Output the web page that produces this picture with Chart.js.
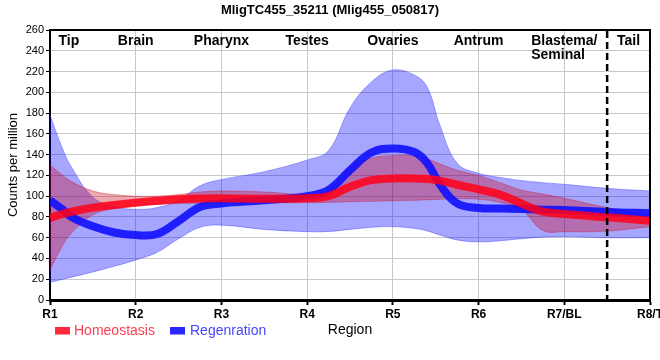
<!DOCTYPE html>
<html><head><meta charset="utf-8">
<script src="https://cdn.jsdelivr.net/npm/chart.js@4.4.1/dist/chart.umd.min.js"></script>
<style>
html,body{margin:0;padding:0;overflow:hidden;background:#fff;width:660px;height:360px}
#wrap{width:680px;height:360px;position:relative}
</style>
</head><body><div id="wrap"><canvas id="c" width="680" height="360"></canvas></div>
<script>
const chartTitle = 'MligTC455_35211 (Mlig455_050817)';
const tickLabels = ['R1','R2','R3','R4','R5','R6','R7/BL','R8/T'];
const regionNames = ['Tip','Brain','Pharynx','Testes','Ovaries','Antrum','Blastema/\nSeminal','Tail'];
const regionNamePos = [1.22,2,3,4,5,6,7,7.75];
const boundaryPos = 7.5;
const seriesNames = ['Homeostasis','Regenration'];

const samplePos  = [1,1.15,1.25,1.5,1.75,2,2.25,2.5,2.75,3,3.5,4,4.25,4.5,4.75,5,5.25,5.4,5.55,5.75,6,6.25,6.5,6.75,7,7.5,8];
const homeoMean  = [79,83,85,89,91.5,93.7,95.5,97,97.8,98,97.5,98,100,109,115.5,117,117,116.5,115,111,106.6,101.5,93,85,82.8,79.6,76.4];
const homeoUpper = [130,120,114,105,101.5,100,100,101.5,104,105,104,102,106,128,136.7,139,139,136,131,125,120,113,106,102,98,89,82];
const homeoLower = [29,53,64.5,82,88,91,92,93,93,93,93.5,93.7,94,94.7,95,95.5,96,96.5,97,97.5,97,94,87,67,65.8,66.4,70.6];
const regenMean  = [96,87,80,71,65,62.5,63.5,76,89.6,93,96,100,106,125,142,146,142.5,132,111,93,88.6,88,87.6,87,86.7,84.7,83.5];
const regenUpper = [178,145,128,99,90,87.3,89,96,110,116,123.6,134.8,144,185,210,221.5,216.7,205,168,131.6,122,118,115,113,111.4,107.5,105];
const regenLower = [17,20,22,27,32.5,38.5,46,59,70,72,68,65.8,66,68,70,70.6,69,66.5,62.5,57.8,56,57,59,60.5,61,60,60];

const FONT = "'Liberation Sans', Arial, sans-serif";
const pts = arr => arr.map((v,i)=>({x:samplePos[i], y:v}));

const decor = {
  id:'decor',
  afterDraw(chart){
    const {ctx, chartArea:a, scales:{x}} = chart;
    ctx.save();
    ctx.strokeStyle='#000'; ctx.lineWidth=2;
    ctx.beginPath(); ctx.moveTo(a.left, a.top); ctx.lineTo(a.right, a.top); ctx.lineTo(a.right, a.bottom); ctx.stroke();
    const bx = x.getPixelForValue(boundaryPos);
    ctx.setLineDash([7,4]); ctx.lineWidth=2.5;
    ctx.beginPath(); ctx.moveTo(bx, a.top+1); ctx.lineTo(bx, a.bottom+6); ctx.stroke();
    ctx.setLineDash([]);
    ctx.fillStyle='#000';
    ctx.font = 'bold 13px '+FONT; ctx.textAlign='center'; ctx.textBaseline='alphabetic';
    ctx.fillText(chartTitle, 330, 13.5);
    ctx.font = 'bold 14px '+FONT;
    regionNames.forEach((n,i)=>{
      const lines = n.split('\n');
      const cx = x.getPixelForValue(regionNamePos[i]);
      if(lines.length===1){ ctx.textAlign='center'; ctx.fillText(n, cx, 44.5); }
      else {
        const w = ctx.measureText(lines[0]).width;
        ctx.textAlign='left';
        lines.forEach((l,j)=>ctx.fillText(l, cx - w/2, 44.5 + j*14.5));
      }
    });
    ctx.font = '14px '+FONT; ctx.textAlign='left';
    ctx.fillStyle='rgb(255,40,60)'; ctx.fillRect(55,327,15,7.5);
    ctx.fillStyle='rgb(255,60,80)'; ctx.fillText(seriesNames[0], 74, 335);
    ctx.fillStyle='rgb(40,40,255)'; ctx.fillRect(170,327,15,7.5);
    ctx.fillStyle='rgb(70,70,255)'; ctx.fillText(seriesNames[1], 190, 335);
    ctx.restore();
  }
};

new Chart(document.getElementById('c'), {
  type:'line',
  data:{ datasets:[
    {label:'regenUpper', data:pts(regenUpper), fill:'+1', backgroundColor:'rgba(0,0,255,0.35)', borderColor:'rgba(70,70,255,0.45)', borderWidth:1, order:4},
    {label:'regenLower', data:pts(regenLower), fill:false, borderColor:'rgba(70,70,255,0.45)', borderWidth:1, order:5},
    {label:'homeoUpper', data:pts(homeoUpper), fill:'+1', backgroundColor:'rgba(205,0,20,0.34)', borderColor:'rgba(205,0,30,0.35)', borderWidth:1, order:2},
    {label:'homeoLower', data:pts(homeoLower), fill:false, borderColor:'rgba(205,0,30,0.35)', borderWidth:1, order:3},
    {label:seriesNames[1], data:pts(regenMean), fill:false, borderColor:'rgba(15,15,255,0.9)', borderWidth:8, order:1},
    {label:seriesNames[0], data:pts(homeoMean), fill:false, borderColor:'rgba(255,0,25,0.86)', borderWidth:8, order:0}
  ]},
  options:{
    responsive:false, animation:false,
    layout:{padding:{top:30,left:0,right:30,bottom:0}},
    elements:{point:{radius:0}, line:{tension:0.4, borderCapStyle:'butt'}},
    plugins:{legend:{display:false}, title:{display:false}, tooltip:{enabled:false}},
    scales:{
      x:{type:'linear', min:1, max:8,
        afterBuildTicks:s=>{ s.ticks = tickLabels.map((_,i)=>({value:i+1})); },
        afterFit:s=>{ s.height = 60; },
        ticks:{callback:(v)=>tickLabels[Math.round(v)-1], autoSkip:false, maxRotation:0, color:'#000', padding:2, font:{family:FONT, size:12, weight:'bold'}},
        grid:{color:'#c8c8c8', lineWidth:1, tickLength:5, tickColor:'#000', tickWidth:2},
        border:{color:'#000', width:3},
        title:{display:true, text:'Region', color:'#000', font:{family:FONT, size:14}, padding:{top:0,bottom:21.6}}
      },
      y:{min:0, max:260,
        afterFit:s=>{ s.width = 50; },
        ticks:{stepSize:20, color:'#000', padding:2, font:{family:FONT, size:11}},
        grid:{color:'#c8c8c8', lineWidth:1, tickLength:4, tickColor:'#000', tickWidth:1},
        border:{color:'#000', width:2},
        title:{display:true, text:'Counts per million', color:'#000', font:{family:FONT, size:13}, padding:{top:6,bottom:0}}
      }
    }
  },
  plugins:[decor]
});
</script>
</body></html>
